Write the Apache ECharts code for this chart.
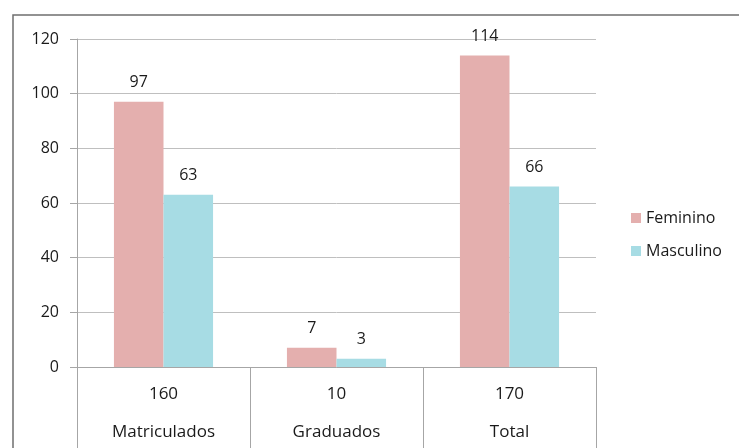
<!DOCTYPE html>
<html><head><meta charset="utf-8">
<script src="https://cdn.jsdelivr.net/npm/echarts@6/dist/echarts.min.js"></script>
<style>html,body{margin:0;padding:0;background:#fff}#c{width:739px;height:448px}</style>
</head><body><div id="c"></div>
<script>
var categories = ['Matriculados', 'Graduados', 'Total'];
var totals = ['160', '10', '170'];
var feminino = [97, 7, 114];
var masculino = [63, 3, 66];
var yTicks = [0, 20, 40, 60, 80, 100, 120];

var chart = echarts.init(document.getElementById('c'), null, {renderer: 'canvas'});
var font = '"Open Sans", sans-serif';
var txt = '#1a1a1a';
var fs = 17;
chart.setOption({
  animation: false,
  textStyle: {fontFamily: font},
  graphic: [{
    type: 'polyline', silent: true,
    shape: {points: [[13, 460], [13, 15], [760, 15]]},
    style: {stroke: '#6f6f6f', lineWidth: 1.5, fill: null}
  }],
  legend: {
    orient: 'vertical', left: 626, top: 205, itemWidth: 10, itemHeight: 10, itemGap: 17,
    icon: 'rect',
    textStyle: {fontSize: 16, color: txt, fontFamily: font},
    data: ['Feminino', 'Masculino']
  },
  grid: {left: 77, right: 143, top: 39, bottom: 81},
  xAxis: {
    type: 'category', data: categories,
    axisLine: {lineStyle: {color: '#a6a6a6', width: 1}},
    axisTick: {show: true, length: 85, interval: 0, lineStyle: {color: '#a6a6a6'}},
    axisLabel: {
      interval: 0, margin: 8,
      formatter: function (v, i) { return '{a|' + totals[i] + '}\n{b|' + v + '}'; },
      rich: {
        a: {fontSize: fs, color: txt, lineHeight: 38, fontFamily: font},
        b: {fontSize: fs, color: txt, lineHeight: 38, fontFamily: font}
      }
    }
  },
  yAxis: {
    type: 'value', min: 0, max: 120, interval: 20,
    axisLine: {show: true, lineStyle: {color: '#a6a6a6'}},
    axisTick: {show: true, inside: false, length: 7, lineStyle: {color: '#a6a6a6'}},
    splitLine: {lineStyle: {color: '#bfbfbf'}},
    axisLabel: {fontSize: 16, color: txt, margin: 18, fontFamily: font,
      formatter: function (v) { return yTicks.indexOf(v) >= 0 ? String(v) : ''; }}
  },
  series: [{
    name: 'Feminino', type: 'bar', data: feminino, barGap: '0%', barCategoryGap: '42.7%',
    itemStyle: {color: '#e4afae'},
    label: {show: true, position: 'top', distance: 11, fontSize: 16, color: txt, fontFamily: font}
  }, {
    name: 'Masculino', type: 'bar', data: masculino,
    itemStyle: {color: '#a7dce4'},
    label: {show: true, position: 'top', distance: 11, fontSize: 16, color: txt, fontFamily: font}
  }]
});
</script></body></html>
